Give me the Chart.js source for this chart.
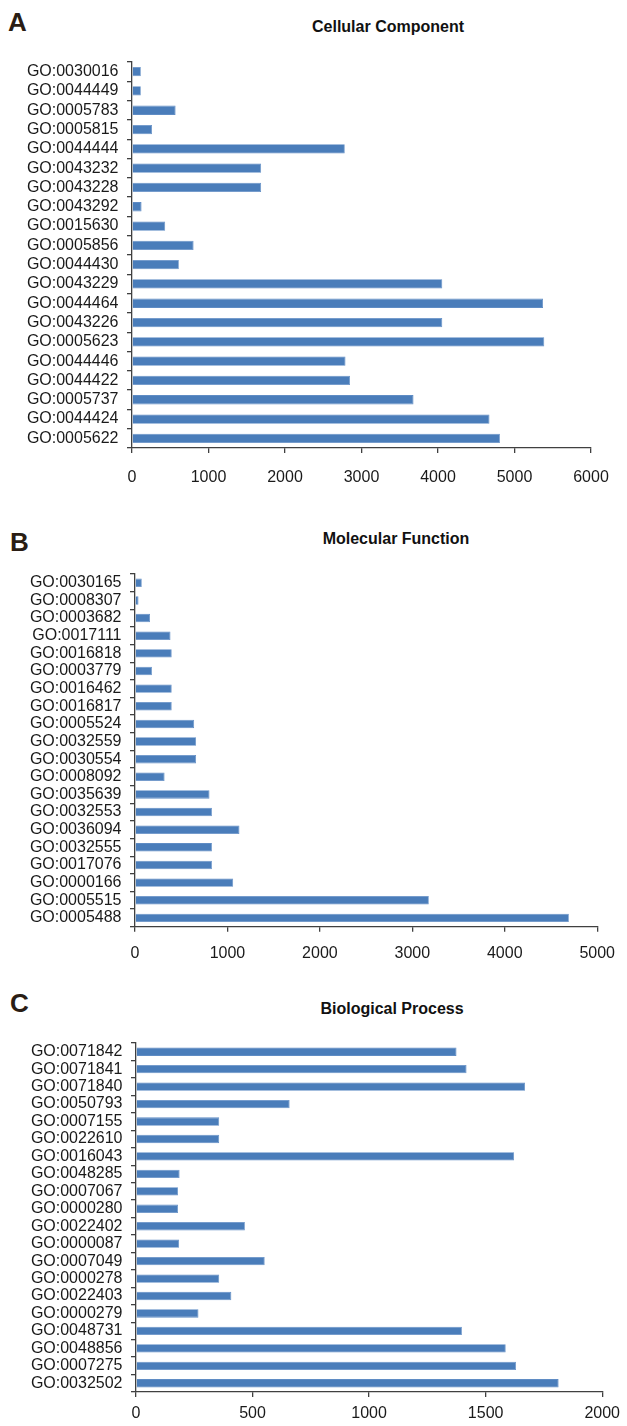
<!DOCTYPE html>
<html>
<head>
<meta charset="utf-8">
<script src="https://cdn.jsdelivr.net/npm/chart.js@4"></script>
<style>
  body { margin: 0; background: #fff; }
  #page { position: relative; width: 627px; height: 1426px; font-family: "Liberation Sans", Arial, sans-serif; }
  .box { position: absolute; left: 0; width: 627px; }
  .letter { position: absolute; font-size: 26px; font-weight: bold; line-height: 26px; color: #2a1d14; }
  .title { position: absolute; font-size: 16px; font-weight: bold; line-height: 16px; color: #111; transform: translateX(-50%); white-space: nowrap; }
</style>
</head>
<body>
<div id="page">
  <div class="letter" style="left:8px; top:8.6px;">A</div>
  <div class="title" style="left:388px; top:19px;">Cellular Component</div>
  <div class="box" style="top:0; height:490px;"><canvas id="chartA"></canvas></div>

  <div class="letter" style="left:10px; top:528.6px;">B</div>
  <div class="title" style="left:396px; top:531px;">Molecular Function</div>
  <div class="box" style="top:490px; height:470px;"><canvas id="chartB"></canvas></div>

  <div class="letter" style="left:10px; top:989.6px;">C</div>
  <div class="title" style="left:392px; top:1001px;">Biological Process</div>
  <div class="box" style="top:960px; height:466px;"><canvas id="chartC"></canvas></div>
</div>
<script>
// Cellular Component
const ccTerms = ['GO:0030016', 'GO:0044449', 'GO:0005783', 'GO:0005815', 'GO:0044444',
  'GO:0043232', 'GO:0043228', 'GO:0043292', 'GO:0015630', 'GO:0005856', 'GO:0044430',
  'GO:0043229', 'GO:0044464', 'GO:0043226', 'GO:0005623', 'GO:0044446', 'GO:0044422',
  'GO:0005737', 'GO:0044424', 'GO:0005622'];
const ccCounts = [115, 115, 570, 261, 2781, 1688, 1688, 125, 434, 805, 612,
  4056, 5373, 4056, 5389, 2791, 2849, 3680, 4673, 4809];
const ccTicks = [0, 1000, 2000, 3000, 4000, 5000, 6000];

// Molecular Function
const mfTerms = ['GO:0030165', 'GO:0008307', 'GO:0003682', 'GO:0017111', 'GO:0016818',
  'GO:0003779', 'GO:0016462', 'GO:0016817', 'GO:0005524', 'GO:0032559', 'GO:0030554',
  'GO:0008092', 'GO:0035639', 'GO:0032553', 'GO:0036094', 'GO:0032555', 'GO:0017076',
  'GO:0000166', 'GO:0005515', 'GO:0005488'];
const mfCounts = [73, 38, 162, 384, 397, 183, 397, 397, 640, 661, 661,
  320, 806, 832, 1130, 832, 832, 1062, 3178, 4693];
const mfTicks = [0, 1000, 2000, 3000, 4000, 5000];

// Biological Process
const bpTerms = ['GO:0071842', 'GO:0071841', 'GO:0071840', 'GO:0050793', 'GO:0007155',
  'GO:0022610', 'GO:0016043', 'GO:0048285', 'GO:0007067', 'GO:0000280', 'GO:0022402',
  'GO:0000087', 'GO:0007049', 'GO:0000278', 'GO:0022403', 'GO:0000279', 'GO:0048731',
  'GO:0048856', 'GO:0007275', 'GO:0032502'];
const bpCounts = [1375, 1418, 1669, 659, 357, 357, 1622, 187, 180, 180, 467,
  185, 552, 357, 409, 268, 1398, 1586, 1630, 1813];
const bpTicks = [0, 500, 1000, 1500, 2000];

const axisColor = '#404040';
const textColor = '#1a1a1a';
const fontFamily = '"Liberation Sans", Arial, sans-serif';

function makeChart(id, labels, values, ticks, box) {
  // box: axis left x, axis right x, plot top / bottom (relative to canvas), canvas height, label gap
  return new Chart(document.getElementById(id), {
    type: 'bar',
    data: {
      labels: labels,
      datasets: [{
        data: values,
        backgroundColor: '#4a7dba',
        borderColor: '#5f8cc4',
        borderWidth: 0.8,
        barPercentage: 0.48,
        categoryPercentage: 1
      }]
    },
    options: {
      indexAxis: 'y',
      responsive: true,
      maintainAspectRatio: false,
      animation: false,
      layout: { padding: { left: 0, top: box.top, right: 627 - box.right, bottom: 0 } },
      plugins: { legend: { display: false }, tooltip: { enabled: false }, title: { display: false } },
      scales: {
        x: {
          min: ticks[0],
          max: ticks[ticks.length - 1],
          afterBuildTicks: s => { s.ticks = ticks.map(v => ({ value: v })); },
          afterFit: s => { s.height = box.height - box.bottom; },
          border: { display: true, color: axisColor, width: 1.3 },
          grid: { drawOnChartArea: false, drawTicks: true, tickLength: 5, color: axisColor, lineWidth: 1.3 },
          ticks: {
            color: textColor, padding: box.gap, maxRotation: 0,
            font: { family: fontFamily, size: 16 },
            callback: v => String(v)
          }
        },
        y: {
          afterFit: s => { s.width = box.left; },
          border: { display: true, color: axisColor, width: 1.3 },
          grid: { drawOnChartArea: false, drawTicks: true, tickLength: 5, color: axisColor, lineWidth: 1.3, offset: true },
          ticks: { color: textColor, padding: 8.5, autoSkip: false, font: { family: fontFamily, size: 16 } }
        }
      }
    }
  });
}

makeChart('chartA', ccTerms, ccCounts, ccTicks, { left: 132, right: 591, top: 62, bottom: 448, height: 490, gap: 15 });
makeChart('chartB', mfTerms, mfCounts, mfTicks, { left: 135, right: 604, top: 84, bottom: 436.7, height: 470, gap: 12 });
makeChart('chartC', bpTerms, bpCounts, bpTicks, { left: 136, right: 606, top: 83, bottom: 432, height: 466, gap: 7 });
</script>
</body>
</html>
